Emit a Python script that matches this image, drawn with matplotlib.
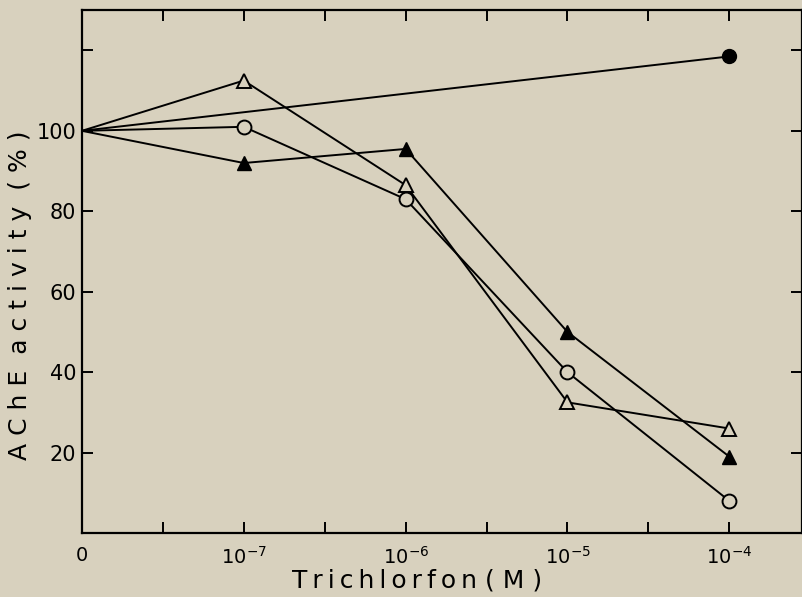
import matplotlib
matplotlib.use("Agg")
import matplotlib.pyplot as plt
from matplotlib.ticker import MultipleLocator

# concentration positions (categorical: 0, 1e-7 ... 1e-4)
x_labels = ["0", "$10^{-7}$", "$10^{-6}$", "$10^{-5}$", "$10^{-4}$"]
x_pos = [0, 1, 2, 3, 4]

filled_circle_x = [0, 4]
filled_circle_y = [100, 118.5]

open_triangle_y = [100, 112.5, 86.5, 32.5, 26]
open_circle_y = [100, 101, 83, 40, 8]
filled_triangle_y = [100, 92, 95.5, 50, 19]

bg = "#d8d1be"


def spaced(s, sep="\u2009"):
    return sep.join(s)


def main():
    plt.rcParams["font.family"] = ["DejaVu Sans"]
    plt.rcParams["mathtext.fontset"] = "dejavusans"

    fig = plt.figure(figsize=(8.03, 5.97), dpi=100, facecolor=bg)
    ax = fig.add_axes([0.102, 0.107, 0.897, 0.876])
    ax.set_facecolor(bg)

    lw = 1.4
    ax.plot(filled_circle_x, filled_circle_y, color="black", lw=lw,
            marker="o", ms=10, markevery=[1], mfc="black", mec="black")
    ax.plot(x_pos, open_triangle_y, color="black", lw=lw,
            marker="^", ms=10, markevery=[1, 2, 3, 4], mfc=bg, mec="black", mew=1.4)
    ax.plot(x_pos, open_circle_y, color="black", lw=lw,
            marker="o", ms=10, markevery=[1, 2, 3, 4], mfc=bg, mec="black", mew=1.4)
    ax.plot(x_pos, filled_triangle_y, color="black", lw=lw,
            marker="^", ms=10, markevery=[1, 2, 3, 4], mfc="black", mec="black")

    ax.set_xlim(0, 4.45)
    ax.set_ylim(0, 130)

    ax.set_xticks(x_pos)
    ax.set_xticklabels(x_labels, fontsize=14)
    ax.xaxis.set_minor_locator(MultipleLocator(0.5))
    ax.set_yticks([20, 40, 60, 80, 100, 120])
    ax.set_yticklabels(["20", "40", "60", "80", "100", ""], fontsize=15)

    ax.tick_params(which="both", direction="in", top=True, right=True,
                   length=8, width=1.4)
    ax.tick_params(axis="x", which="both", pad=9)
    ax.tick_params(axis="y", which="both", pad=4)
    ax.tick_params(axis="y", which="minor", left=False, right=False)
    for s in ax.spines.values():
        s.set_linewidth(1.6)

    ax.set_xlabel(spaced("Trichlorfon") + " ( M )", fontsize=18)
    ax.xaxis.set_label_coords(0.465, -0.068)
    ax.set_ylabel(spaced("AChE", " ") + "  " + spaced("activity", " ") + "  ( % )",
                  fontsize=18)
    ax.yaxis.set_label_coords(-0.069, 0.455)

    fig.savefig("out.png", dpi=100, facecolor=bg)


if __name__ == "__main__":
    main()
